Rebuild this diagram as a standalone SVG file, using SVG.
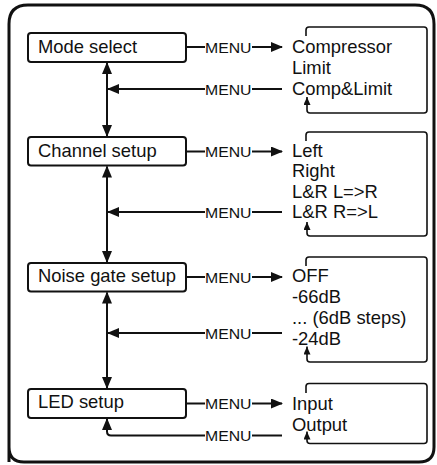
<svg xmlns="http://www.w3.org/2000/svg" width="437" height="465" viewBox="0 0 437 465">
<defs>
<marker id="ah" markerUnits="userSpaceOnUse" markerWidth="12" markerHeight="10" refX="11" refY="5" orient="auto-start-reverse" viewBox="0 0 12 10"><path d="M0,0 L12,5 L0,10 z" fill="#111"/></marker>
<marker id="sa" markerUnits="userSpaceOnUse" markerWidth="8" markerHeight="7" refX="8" refY="3.5" orient="auto" viewBox="0 0 8 7"><path d="M0,0 L8,3.5 L0,7 z" fill="#111"/></marker>
</defs>
<style>
.box{fill:#fff;stroke:#111;stroke-width:2}
.lbl{font-family:"Liberation Sans",Arial,sans-serif;font-size:18.4px;fill:#111}
.menu{font-family:"Liberation Sans",Arial,sans-serif;font-size:15px;fill:#111}
.ln{fill:none;stroke:#111;stroke-width:2}
.ob{fill:none;stroke:#111;stroke-width:1.6}
</style>
<rect x="0" y="0" width="437" height="465" fill="#fff"/>
<path d="M9,462 V24 Q9,5 28,5 H415 Q434,5 434,24 V447 Q434,462 419,462 H24 Q9,462 9,447" fill="none" stroke="#111" stroke-width="3"/>

<g id="mode-select"><rect class="box" x="28" y="33" width="158" height="29" rx="3"/><text class="lbl" x="38" y="53.3">Mode select</text></g>
<g id="channel-setup"><rect class="box" x="28" y="137" width="158" height="28.5" rx="3"/><text class="lbl" x="38" y="156.7">Channel setup</text></g>
<g id="noise-gate-setup"><rect class="box" x="28" y="263" width="158" height="28.5" rx="3"/><text class="lbl" x="38" y="281.7">Noise gate setup</text></g>
<g id="led-setup"><rect class="box" x="28" y="389" width="158" height="29" rx="3"/><text class="lbl" x="38" y="408.3">LED setup</text></g>

<g id="mode-options">
<path class="ob" d="M306,36 V30 Q306,27 309,27 H424 Q427,27 427,30 V110 Q427,113 424,113 H310 Q307,113 307,110 V97" marker-end="url(#sa)"/>
<text class="lbl" x="292" y="53.3">Compressor</text>
<text class="lbl" x="292" y="74">Limit</text>
<text class="lbl" x="292" y="94.7">Comp&amp;Limit</text>
</g>
<g id="channel-options">
<path class="ob" d="M306,141 V135 Q306,132 309,132 H424 Q427,132 427,135 V233 Q427,236 424,236 H310 Q307,236 307,233 V222" marker-end="url(#sa)"/>
<text class="lbl" x="292" y="156.7">Left</text>
<text class="lbl" x="292" y="177">Right</text>
<text class="lbl" x="292" y="197.5">L&amp;R L=&gt;R</text>
<text class="lbl" x="292" y="218.2">L&amp;R R=&gt;L</text>
</g>
<g id="noise-options">
<path class="ob" d="M306,266 V260 Q306,257 309,257 H424 Q427,257 427,260 V359 Q427,362 424,362 H310 Q307,362 307,359 V346.5" marker-end="url(#sa)"/>
<text class="lbl" x="292" y="281.7">OFF</text>
<text class="lbl" x="292" y="302.5">-66dB</text>
<text class="lbl" x="292" y="323.5">... (6dB steps)</text>
<text class="lbl" x="292" y="344.5">-24dB</text>
</g>
<g id="led-options">
<path class="ob" d="M306,393 V386.5 Q306,383.5 309,383.5 H424 Q427,383.5 427,386.5 V440.5 Q427,443.5 424,443.5 H310 Q307,443.5 307,440.5 V431.5" marker-end="url(#sa)"/>
<text class="lbl" x="292" y="410">Input</text>
<text class="lbl" x="292" y="430.5">Output</text>
</g>

<g id="connectors">
<line class="ln" x1="107" y1="63" x2="107" y2="136" marker-start="url(#ah)" marker-end="url(#ah)"/>
<line class="ln" x1="107" y1="166.5" x2="107" y2="262" marker-start="url(#ah)" marker-end="url(#ah)"/>
<line class="ln" x1="107" y1="292.5" x2="107" y2="388" marker-start="url(#ah)" marker-end="url(#ah)"/>

<line class="ln" x1="186" y1="47" x2="205" y2="47"/>
<text class="menu" x="205" y="52.5" textLength="46.5" lengthAdjust="spacingAndGlyphs">MENU</text>
<line class="ln" x1="252" y1="47" x2="282" y2="47" marker-end="url(#ah)"/>
<line class="ln" x1="205" y1="89" x2="108" y2="89" marker-end="url(#ah)"/>
<text class="menu" x="205" y="94.5" textLength="46.5" lengthAdjust="spacingAndGlyphs">MENU</text>
<line class="ln" x1="252" y1="89" x2="282" y2="89"/>

<line class="ln" x1="186" y1="151.5" x2="205" y2="151.5"/>
<text class="menu" x="205" y="157" textLength="46.5" lengthAdjust="spacingAndGlyphs">MENU</text>
<line class="ln" x1="252" y1="151.5" x2="282" y2="151.5" marker-end="url(#ah)"/>
<line class="ln" x1="205" y1="212" x2="108" y2="212" marker-end="url(#ah)"/>
<text class="menu" x="205" y="217.5" textLength="46.5" lengthAdjust="spacingAndGlyphs">MENU</text>
<line class="ln" x1="252" y1="212" x2="282" y2="212"/>

<line class="ln" x1="186" y1="277" x2="205" y2="277"/>
<text class="menu" x="205" y="282.5" textLength="46.5" lengthAdjust="spacingAndGlyphs">MENU</text>
<line class="ln" x1="252" y1="277" x2="282" y2="277" marker-end="url(#ah)"/>
<line class="ln" x1="205" y1="333" x2="108" y2="333" marker-end="url(#ah)"/>
<text class="menu" x="205" y="338.5" textLength="46.5" lengthAdjust="spacingAndGlyphs">MENU</text>
<line class="ln" x1="252" y1="333" x2="282" y2="333"/>

<line class="ln" x1="186" y1="403.5" x2="205" y2="403.5"/>
<text class="menu" x="205" y="409" textLength="46.5" lengthAdjust="spacingAndGlyphs">MENU</text>
<line class="ln" x1="252" y1="403.5" x2="282" y2="403.5" marker-end="url(#ah)"/>
<path class="ln" d="M205,435.5 H111 Q107,435.5 107,431.5 V419" marker-end="url(#ah)"/>
<text class="menu" x="205" y="441" textLength="46.5" lengthAdjust="spacingAndGlyphs">MENU</text>
<line class="ln" x1="252" y1="435.5" x2="282" y2="435.5"/>
</g>
</svg>
